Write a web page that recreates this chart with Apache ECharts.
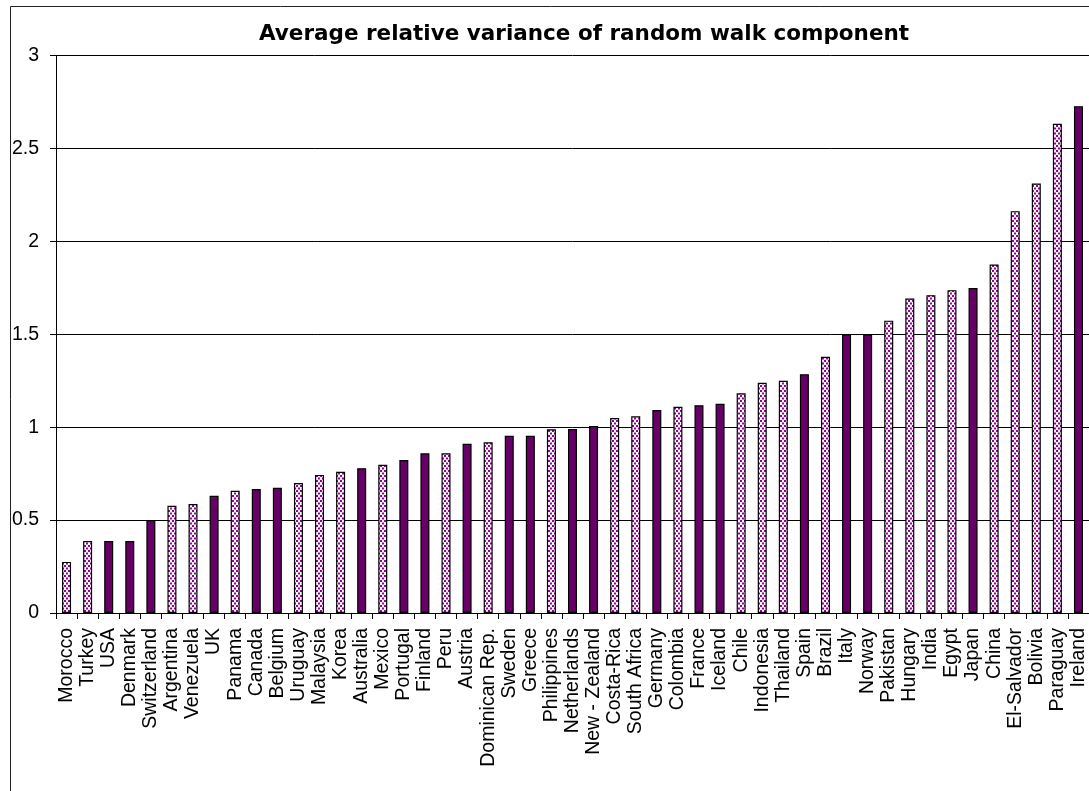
<!DOCTYPE html>
<html>
<head>
<meta charset="utf-8">
<script src="https://cdn.jsdelivr.net/npm/echarts@6/dist/echarts.min.js"></script>
<style>
  html, body { margin: 0; padding: 0; background: #fff; overflow: hidden; }
  #chart { width: 1089px; height: 791px; }
</style>
</head>
<body>
<div id="chart"></div>
<script>
// Countries, ordered by their average relative variance
const countries = [
  'Morocco', 'Turkey', 'USA', 'Denmark', 'Switzerland', 'Argentina', 'Venezuela',
  'UK', 'Panama', 'Canada', 'Belgium', 'Uruguay', 'Malaysia', 'Korea',
  'Australia', 'Mexico', 'Portugal', 'Finland', 'Peru', 'Austria', 'Dominican Rep.',
  'Sweden', 'Greece', 'Philippines', 'Netherlands', 'New - Zealand', 'Costa-Rica',
  'South Africa', 'Germany', 'Colombia', 'France', 'Iceland', 'Chile', 'Indonesia',
  'Thailand', 'Spain', 'Brazil', 'Italy', 'Norway', 'Pakistan', 'Hungary', 'India',
  'Egypt', 'Japan', 'China', 'El-Salvador', 'Bolivia', 'Paraguay', 'Ireland'
];

// Average relative variance of the random walk component
const variance = [
  0.275, 0.387, 0.387, 0.387, 0.500, 0.577, 0.586,
  0.631, 0.658, 0.667, 0.674, 0.699, 0.743, 0.760,
  0.779, 0.797, 0.823, 0.859, 0.859, 0.910, 0.919,
  0.953, 0.953, 0.989, 0.990, 1.006, 1.049,
  1.058, 1.092, 1.110, 1.118, 1.126, 1.182, 1.239,
  1.249, 1.285, 1.379, 1.500, 1.500, 1.573, 1.692, 1.710,
  1.737, 1.748, 1.875, 2.162, 2.311, 2.632, 2.727
];

// Country group: 'S' = solid fill, 'D' = dotted fill
const group = [
  'D', 'D', 'S', 'S', 'S', 'D', 'D',
  'S', 'D', 'S', 'S', 'D', 'D', 'D',
  'S', 'D', 'S', 'S', 'D', 'S', 'D',
  'S', 'S', 'D', 'S', 'S', 'D',
  'D', 'S', 'D', 'S', 'S', 'D', 'D',
  'D', 'S', 'D', 'S', 'S', 'D', 'D', 'D',
  'D', 'S', 'D', 'D', 'D', 'D', 'S'
];

const yTicks = { min: 0, max: 3, step: 0.5 };
const titleText = 'Average relative variance of random walk component';

// Dotted fill: white tile with staggered purple squares
function dotPattern() {
  const c = document.createElement('canvas');
  c.width = 4; c.height = 5;
  const g = c.getContext('2d');
  g.fillStyle = '#ffffff';
  g.fillRect(0, 0, 4, 5);
  g.fillStyle = '#990099';
  g.fillRect(0, 0, 2, 2);
  g.fillRect(2, 2.5, 2, 2);
  return c;
}
const dots = { image: dotPattern(), repeat: 'repeat' };
const solid = '#660066';

const barData = variance.map((v, i) => ({
  value: v,
  itemStyle: { color: group[i] === 'S' ? solid : dots }
}));

const FONT = '"Liberation Sans", Arial, sans-serif';
const catWidth = 21.15;

const chart = echarts.init(document.getElementById('chart'), null, { renderer: 'canvas' });
chart.setOption({
  animation: false,
  backgroundColor: '#ffffff',
  graphic: [
    {
      type: 'rect',
      shape: { x: 10.5, y: 6.5, width: 1200, height: 900 },
      style: { fill: 'none', stroke: '#222', lineWidth: 1 },
      z: 0
    },
    {
      type: 'text',
      x: 584, y: 34,
      style: {
        text: titleText,
        font: 'bold 21.5px "DejaVu Sans", sans-serif',
        fill: '#000',
        align: 'center',
        verticalAlign: 'middle'
      }
    }
  ],
  grid: {
    left: 56,
    top: 55.4,
    width: catWidth * countries.length,
    height: 557.6,
    containLabel: false
  },
  xAxis: {
    type: 'category',
    data: countries,
    boundaryGap: true,
    axisLine: { show: true, lineStyle: { color: '#000', width: 1 } },
    axisTick: { show: true, length: 6, alignWithLabel: false, lineStyle: { color: '#000' } },
    axisLabel: {
      interval: 0,
      rotate: 90,
      margin: 15,
      color: '#000',
      fontFamily: FONT,
      fontSize: 19.5
    },
    splitLine: { show: false }
  },
  yAxis: {
    type: 'value',
    min: yTicks.min,
    max: yTicks.max,
    interval: yTicks.step,
    axisLine: { show: true, lineStyle: { color: '#000', width: 1 } },
    axisTick: { show: true, length: 6, lineStyle: { color: '#000' } },
    axisLabel: {
      margin: 17,
      color: '#000',
      fontFamily: FONT,
      fontSize: 19.5
    },
    splitLine: { show: true, lineStyle: { color: '#000', width: 1 } }
  },
  series: [
    {
      type: 'bar',
      data: barData,
      barWidth: 9,
      itemStyle: { borderColor: '#000', borderWidth: 1.2 }
    }
  ]
});
</script>
</body>
</html>
